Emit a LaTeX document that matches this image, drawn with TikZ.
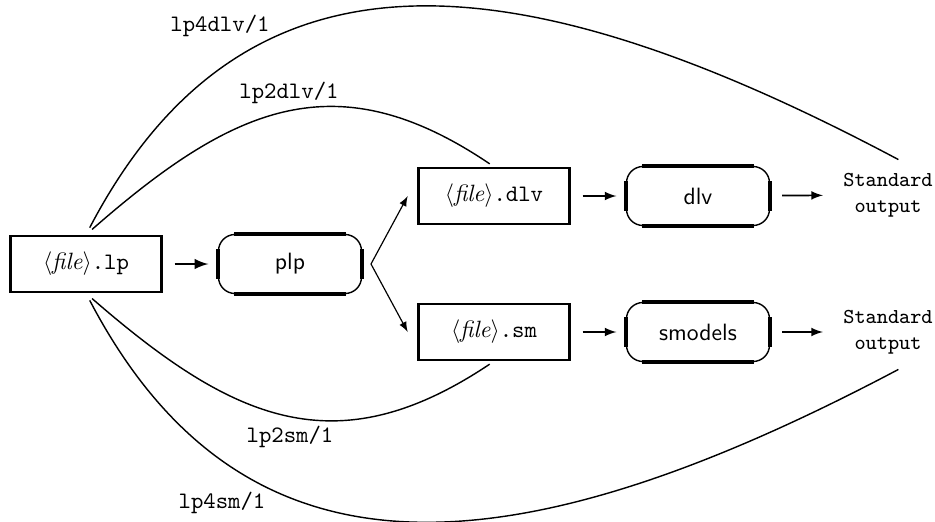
\documentclass[tikz,border=0pt]{standalone}
\usepackage{amsmath}
\usepackage{tikz}
\usetikzlibrary{arrows}

\tikzset{
  filebox/.style={draw, line width=1.1pt, minimum width=64pt, minimum height=23.7pt, inner sep=2pt},
  progbox/.style={draw, line width=0.6pt, rounded corners=7pt, minimum width=60.6pt, minimum height=25pt, font=\sffamily},
  outtext/.style={align=center, font=\small\ttfamily, inner sep=0pt},
  flow/.style={-latex, line width=0.7pt, shorten <=5pt, shorten >=4pt},
  trans/.style={line width=0.6pt, shorten <=3.4pt, shorten >=2.2pt}
}
\newcommand{\fname}[1]{$\langle$\textit{file}$\rangle$\texttt{.#1}}

\begin{document}
\begin{tikzpicture}[x=0.4237pt, y=-0.4237pt]
        \useasboundingbox (0,0) rectangle (935,521);
        % files and programs
        \node[filebox] (lp) at (86,264) {\fname{lp}};
        \node[progbox] (plp) at (290,264) {plp};
        \node[filebox] (dlvfile) at (494,196) {\fname{dlv}};
        \node[filebox] (smfile) at (494,332) {\fname{sm}};
        \node[progbox] (dlv) at (698,196) {dlv};
        \node[progbox] (smodels) at (698,332) {smodels};
        \node[outtext] (out1) at (888,195) {Standard\\output};
        \node[outtext] (out2) at (888,332) {Standard\\output};
        % thick straight sides of the program boxes
        \foreach \n in {plp, dlv, smodels}{
        \draw[line width=1.6pt] ([xshift=7pt]\n.north west) -- ([xshift=-7pt]\n.north east);
        \draw[line width=1.6pt] ([xshift=7pt]\n.south west) -- ([xshift=-7pt]\n.south east);
        \draw[line width=1.6pt] ([yshift=-6.5pt]\n.north west) -- ([yshift=6.5pt]\n.south west);
        \draw[line width=1.6pt] ([yshift=-6.5pt]\n.north east) -- ([yshift=6.5pt]\n.south east);}
        % straight arrows
        \draw[flow, line width=1pt] (lp) -- (plp);
        \coordinate (fork) at (371,264);
        \draw[-latex, line width=0.5pt] (fork) -- ([xshift=-4pt]dlvfile.west);
        \draw[-latex, line width=0.5pt] (fork) -- ([xshift=-4pt]smfile.west);
        \draw[flow] (dlvfile) -- (dlv);
        \draw[flow] (smfile) -- (smodels);
        \draw[flow, shorten >=8.5pt] (dlv) -- (out1);
        \draw[flow, shorten >=8.5pt] (smodels) -- (out2);
        % direct translations
        \coordinate (top4) at (903,162);
        \coordinate (bot4) at (903,367);
        \draw[trans] (lp.north) .. controls (242,-63) and (506,-49) .. (top4);
        \draw[trans] (lp.north) .. controls (233,106) and (336,60) .. (dlvfile.north);
        \draw[trans] (lp.south) .. controls (233,421) and (336,467) .. (smfile.south);
        \draw[trans] (lp.south) .. controls (242,591) and (506,577) .. (bot4);
        \node (l4dlv) at (220,26) {\texttt{lp4dlv/1}};
        \node (l2dlv) at (289,93) {\texttt{lp2dlv/1}};
        \node (l2sm) at (290,437) {\texttt{lp2sm/1}};
        \node (l4sm) at (222,503) {\texttt{lp4sm/1}};
\end{tikzpicture}
\end{document}
